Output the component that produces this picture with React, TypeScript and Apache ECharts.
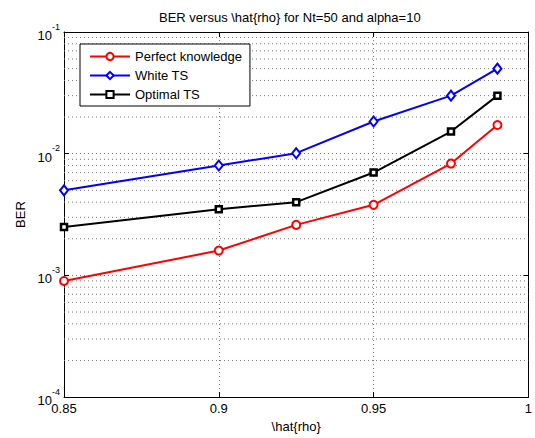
import React, { useEffect, useRef } from "react";
import * as echarts from "echarts";

const rhoValues = [0.85, 0.9, 0.925, 0.95, 0.975, 0.99];
const perfectKnowledge = [0.0009, 0.0016, 0.0026, 0.0038, 0.0083, 0.0172];
const whiteTS = [0.005, 0.008, 0.0101, 0.0184, 0.030, 0.050];
const optimalTS = [0.0025, 0.0035, 0.0040, 0.0070, 0.0152, 0.030];
const seriesNames = ["Perfect knowledge", "White TS", "Optimal TS"];
const xRange = [0.85, 1];
const yRange = [1e-4, 1e-1];
const minorGridValues: number[] = [];
for (const dec of [1e-4, 1e-3, 1e-2]) {
  for (let m = 2; m <= 9; m++) minorGridValues.push(+(m * dec).toPrecision(3));
}

const FONT = "'Liberation Sans', Arial, Helvetica, sans-serif";
const DOT: number[] = [1, 3];
const GRID_COLOR = "#777";

export default function App() {
  const ref = useRef<HTMLDivElement>(null);
  useEffect(() => {
    if (!ref.current) return;
    const chart = echarts.init(ref.current, undefined, { renderer: "svg" });
    const pair = (ys: number[]) => rhoValues.map((x, i) => [x, ys[i]]);
    const supLabel = (v: number) => {
      const e = Math.round(Math.log10(v));
      return `{b|10}{s|${e}}`;
    };
    const minorSeries = minorGridValues.map((v) => ({
      name: "minor-" + v,
      type: "line",
      data: [
        [xRange[0], v],
        [xRange[1], v],
      ],
      symbol: "none",
      silent: true,
      z: 1,
      lineStyle: { color: GRID_COLOR, width: 1, type: DOT },
      emphasis: { disabled: true },
      tooltip: { show: false },
    }));
    chart.setOption({
      animation: false,
      backgroundColor: "#fff",
      textStyle: { fontFamily: FONT },
      title: {
        text: "BER versus \\hat{rho} for Nt=50 and alpha=10",
        left: 159,
        top: 11,
        padding: 0,
        textStyle: { fontSize: 13, fontWeight: "normal", color: "#000", fontFamily: FONT },
      },
      grid: { left: 64, right: 5, top: 32, bottom: 39 },
      legend: {
        data: seriesNames,
        orient: "vertical",
        left: 80,
        top: 44,
        padding: [6, 8, 5, 9],
        itemWidth: 40,
        itemHeight: 9,
        itemGap: 6,
        backgroundColor: "#fff",
        borderColor: "#000",
        borderWidth: 1,
        borderRadius: 0,
        textStyle: { fontSize: 13, color: "#000", fontFamily: FONT },
      },
      xAxis: [
        {
          type: "value",
          min: xRange[0],
          max: xRange[1],
          interval: 0.05,
          name: "\\hat{rho}",
          nameLocation: "middle",
          nameGap: 21,
          nameTextStyle: { fontSize: 13, color: "#000", fontFamily: FONT },
          axisLine: { show: true, lineStyle: { color: "#000", width: 1 } },
          axisTick: { show: true, inside: true, length: 5, lineStyle: { color: "#000" } },
          axisLabel: { fontSize: 13, color: "#000", margin: 5, fontFamily: FONT },
          splitLine: { show: true, lineStyle: { color: GRID_COLOR, width: 1, type: DOT } },
        },
        {
          type: "value",
          position: "top",
          min: xRange[0],
          max: xRange[1],
          interval: 0.05,
          axisLine: { show: true, onZero: false, lineStyle: { color: "#000", width: 1 } },
          axisTick: { show: true, inside: true, length: 5, lineStyle: { color: "#000" } },
          axisLabel: { show: false },
          splitLine: { show: false },
        },
      ],
      yAxis: [
        {
          type: "log",
          logBase: 10,
          min: yRange[0],
          max: yRange[1],
          name: "BER",
          nameLocation: "middle",
          nameGap: 37,
          nameTextStyle: { fontSize: 13, color: "#000", fontFamily: FONT },
          axisLine: { show: true, lineStyle: { color: "#000", width: 1 } },
          axisTick: { show: true, inside: true, length: 5, lineStyle: { color: "#000" } },
          axisLabel: {
            formatter: supLabel,
            margin: 4,
            rich: {
              b: { fontSize: 13, color: "#000", fontFamily: FONT, verticalAlign: "bottom", lineHeight: 20 },
              s: { fontSize: 9, color: "#000", fontFamily: FONT, verticalAlign: "top", lineHeight: 20 },
            },
          },
          splitLine: { show: true, lineStyle: { color: GRID_COLOR, width: 1, type: DOT } },
        },
        {
          type: "log",
          logBase: 10,
          min: yRange[0],
          max: yRange[1],
          position: "right",
          axisLine: { show: true, onZero: false, lineStyle: { color: "#000", width: 1 } },
          axisTick: { show: true, inside: true, length: 5, lineStyle: { color: "#000" } },
          axisLabel: { show: false },
          splitLine: { show: false },
        },
      ],
      series: [
        ...minorSeries,
        {
          name: seriesNames[0],
          type: "line",
          data: pair(perfectKnowledge),
          symbol: "circle",
          symbolSize: 8,
          lineStyle: { color: "#ff0000", width: 2 },
          itemStyle: { color: "#fff", borderColor: "#ff0000", borderWidth: 2 },
          z: 3,
        },
        {
          name: seriesNames[1],
          type: "line",
          data: pair(whiteTS),
          symbol: "diamond",
          symbolSize: [8, 10],
          lineStyle: { color: "#0000ff", width: 2 },
          itemStyle: { color: "#fff", borderColor: "#0000ff", borderWidth: 2 },
          z: 3,
        },
        {
          name: seriesNames[2],
          type: "line",
          data: pair(optimalTS),
          symbol: "rect",
          symbolSize: 6,
          lineStyle: { color: "#000", width: 2 },
          itemStyle: { color: "#fff", borderColor: "#000", borderWidth: 2.5 },
          z: 3,
        },
      ],
    });
    return () => chart.dispose();
  }, []);
  return (
    <div
      ref={ref}
      style={{ position: "fixed", left: 0, top: 0, width: 535, height: 438, background: "#fff" }}
    />
  );
}
